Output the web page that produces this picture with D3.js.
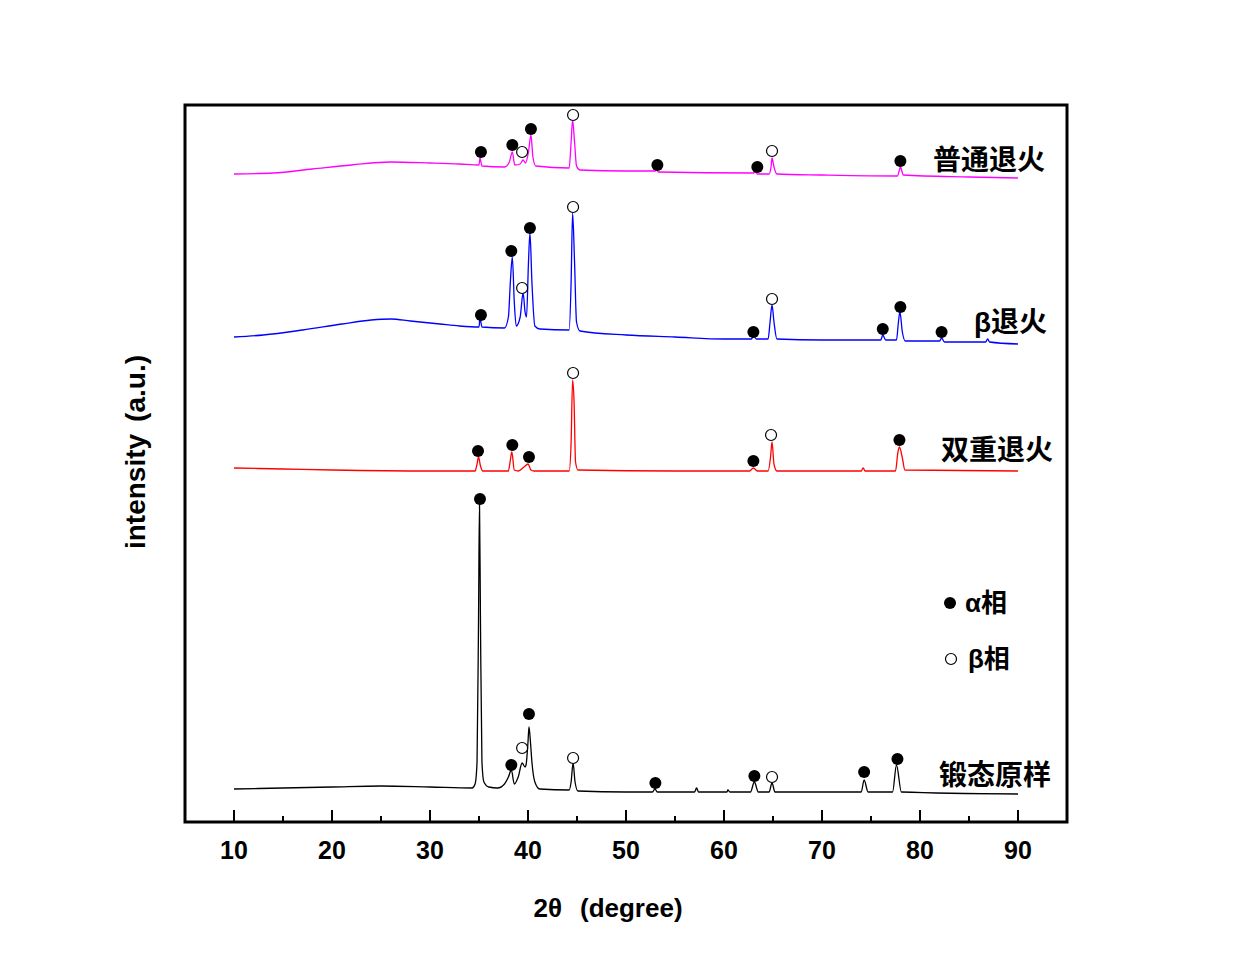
<!DOCTYPE html>
<html lang="zh">
<head>
<meta charset="UTF-8">
<title>XRD patterns</title>
<script src="https://d3js.org/d3.v7.min.js"></script>
<style>
  body { margin: 0; background: #fff; }
  text { font-family: "Liberation Sans", Arial, "Noto Sans CJK SC", sans-serif; font-weight: bold; fill: #000; }
  .cjk { font-family: "Liberation Sans", "Noto Sans CJK SC", sans-serif; }
</style>
</head>
<body>
<div id="chart"></div>
<script>
// 2θ (deg), intensity (a.u., curves already stacked)
const forged = [[10,33],[15,34],[20,35],[25,36],[30,35],[34.3,34],[34.6,38],[34.8,60],[34.95,200],[35.05,320],[35.15,200],[35.3,60],[35.5,40],[36,35],[36.9,34],
  [37.6,38],[38.0,45],[38.3,52],[38.6,38],[39.0,45],[39.4,59],[39.7,55],[39.8,57],[40.0,80],[40.1,95],[40.25,80],[40.4,60],[40.7,40],[41.2,33],
  [44.2,32],[44.4,40],[44.6,59],[44.8,40],[45.1,31],[50,30],[52.7,30],[52.95,33],[53.2,30],[57,30],[57.2,34],[57.4,30],[60.3,30],[60.4,32],[60.6,30],
  [62.7,30],[63.1,40],[63.5,30],[64.6,30],[64.9,39],[65.2,30],[74,30],[74.3,42],[74.7,30],[77.2,30],[77.6,57],[78.1,30],[90,28]];
const dual = [[10,354],[15,353],[20,352],[30,351],[34.6,351],[34.8,358],[34.95,365],[35.15,356],[35.4,351],[38.0,351],[38.2,362],[38.35,370],[38.6,352],
  [39.0,351],[39.6,355],[40.0,358],[40.3,352],[40.6,351],[44.2,351],[44.4,380],[44.55,442],[44.7,420],[44.85,360],[45.1,352],[55,351],[62.6,351],
  [63.0,354],[63.4,351],[64.5,351],[64.75,365],[64.9,380],[65.1,358],[65.4,351],[74.0,351],[74.2,354],[74.4,351],[77.5,351],[77.75,370],[77.9,375],
  [78.2,364],[78.45,352],[90,351]];
const betaAnn = [[10,485],[13,487],[17,492],[21,498],[24,502],[26,503],[28,501],[31,498],[33,496],[35,495],[35.1,504],[35.3,495],[37.6,494],[38.0,505],
  [38.2,540],[38.4,565],[38.6,520],[38.8,496],[39.2,505],[39.5,529],[39.7,510],[39.85,505],[40.05,560],[40.2,589],[40.4,540],[40.7,496],[41.2,493],
  [44.2,492],[44.4,540],[44.55,609],[44.75,560],[44.95,500],[45.3,491],[50,487],[55,485],[60,483],[62.8,483],[63.0,486],[63.3,483],[64.5,483],
  [64.7,500],[64.9,517],[65.1,500],[65.4,483],[70,482],[76.0,482],[76.2,487],[76.5,482],[77.6,482],[77.8,500],[77.95,510],[78.2,490],[78.5,481],
  [82.0,481],[82.2,484],[82.5,480],[86.7,480],[86.9,483],[87.1,480],[90,478]];
const normal = [[10,648],[14,649],[18,653],[22,657],[26,660],[30,659],[33,658],[35,657],[35.1,664],[35.3,656],[37.6,655],[38.1,660],[38.4,670],
  [38.65,657],[39.2,658],[39.5,662],[39.75,659],[40.05,670],[40.3,687],[40.5,665],[40.8,656],[44.2,654],[44.4,680],[44.55,702],[44.75,680],
  [44.95,656],[45.3,652],[50,651],[53.0,651],[53.1,653],[53.3,650],[63.0,649],[63.2,650],[63.4,648],[64.6,648],[64.8,655],[64.9,664],[65.1,655],
  [65.4,648],[70,647],[77.7,646],[77.9,652],[78.0,655],[78.3,647],[85,645],[90,644]];

// phase markers: [2θ, intensity]
const forgedAlpha = [[35.1,323],[38.3,57],[40.1,108],[53.0,39],[63.1,46],[74.3,50],[77.7,63]];
const forgedBeta = [[39.4,74],[44.6,64],[64.9,45]];
const dualAlpha = [[34.9,371],[38.4,377],[40.1,365],[63.0,361],[77.9,382]];
const dualBeta = [[44.6,449],[64.8,387]];
const betaAlpha = [[35.2,507],[38.3,571],[40.2,594],[63.0,490],[76.2,493],[78.0,515],[82.2,490]];
const betaBeta = [[39.4,534],[44.6,615],[64.9,523]];
const normalAlpha = [[35.2,670],[38.4,677],[40.3,693],[53.2,657],[63.4,655],[78.0,661]];
const normalBeta = [[39.4,670],[44.6,707],[64.9,671]];

const seriesNames = ["锻态原样", "双重退火", "β退火", "普通退火"];
const seriesColors = ["#000000", "#ff0000", "#0000ff", "#ff00ff"];
const xTicks = [10, 20, 30, 40, 50, 60, 70, 80, 90];

const series = [
  { name: seriesNames[0], color: seriesColors[0], data: forged, alpha: forgedAlpha, beta: forgedBeta, lx: 939, ly: 785 },
  { name: seriesNames[1], color: seriesColors[1], data: dual, alpha: dualAlpha, beta: dualBeta, lx: 941, ly: 460 },
  { name: seriesNames[2], color: seriesColors[2], data: betaAnn, alpha: betaAlpha, beta: betaBeta, lx: 974, ly: 332 },
  { name: seriesNames[3], color: seriesColors[3], data: normal, alpha: normalAlpha, beta: normalBeta, lx: 933, ly: 170 }
];

const W = 1241, H = 963;
const margin = { left: 185, top: 105, right: 174, bottom: 141 };
const iw = W - margin.left - margin.right;
const ih = H - margin.top - margin.bottom;

const x = d3.scaleLinear().domain([5, 95]).range([0, iw]);
const y = d3.scaleLinear().domain([0, 717]).range([ih, 0]);

const svg = d3.select("#chart").append("svg")
  .attr("width", W).attr("height", H);

const g = svg.append("g").attr("transform", `translate(${margin.left},${margin.top})`);

const line = d3.line().curve(d3.curveMonotoneX).x(d => x(d[0])).y(d => y(d[1]));

series.forEach(s => {
  g.append("path")
    .datum(s.data)
    .attr("fill", "none")
    .attr("stroke", s.color)
    .attr("stroke-width", 1.3)
    .attr("stroke-linejoin", "round")
    .attr("d", line);
});

series.forEach(s => {
  g.selectAll(null).data(s.alpha).join("circle")
    .attr("cx", d => x(d[0])).attr("cy", d => y(d[1]))
    .attr("r", 6).attr("fill", "#000");
  g.selectAll(null).data(s.beta).join("circle")
    .attr("cx", d => x(d[0])).attr("cy", d => y(d[1]))
    .attr("r", 5.5).attr("fill", "#fff").attr("stroke", "#000").attr("stroke-width", 1.2);
  svg.append("text")
    .attr("class", "cjk")
    .attr("x", s.lx).attr("y", s.ly)
    .attr("font-size", 28)
    .text(s.name);
});

// axis ticks (inward, bottom only)
const minorTicks = d3.range(5, 96, 5).filter(v => v % 10 !== 0 && v > 5 && v < 95);
g.selectAll(".major").data(xTicks).join("line")
  .attr("x1", d => x(d)).attr("x2", d => x(d))
  .attr("y1", ih).attr("y2", ih - 12)
  .attr("stroke", "#000").attr("stroke-width", 2);
g.selectAll(".minor").data(minorTicks).join("line")
  .attr("x1", d => x(d)).attr("x2", d => x(d))
  .attr("y1", ih).attr("y2", ih - 6)
  .attr("stroke", "#000").attr("stroke-width", 2);

g.selectAll(".tl").data(xTicks).join("text")
  .attr("x", d => x(d)).attr("y", ih + 37)
  .attr("text-anchor", "middle")
  .attr("font-size", 25)
  .text(d => d);

// frame
g.append("rect")
  .attr("x", 0).attr("y", 0).attr("width", iw).attr("height", ih)
  .attr("fill", "none").attr("stroke", "#000").attr("stroke-width", 3);

// axis titles
const xt = svg.append("text")
  .attr("x", 608).attr("y", 917)
  .attr("text-anchor", "middle")
  .attr("font-size", 26);
xt.append("tspan").text("2θ");
xt.append("tspan").attr("dx", 18).text("(degree)");

const yt = svg.append("text")
  .attr("transform", "translate(145,452) rotate(-90)")
  .attr("text-anchor", "middle")
  .attr("font-size", 28);
yt.append("tspan").text("intensity");
yt.append("tspan").attr("dx", 12).text("(a.u.)");

// legend
svg.append("circle").attr("cx", 950).attr("cy", 603).attr("r", 6).attr("fill", "#000");
svg.append("text").attr("class", "cjk").attr("x", 965).attr("y", 612).attr("font-size", 26).text("α相");
svg.append("circle").attr("cx", 951).attr("cy", 659).attr("r", 5.5).attr("fill", "#fff").attr("stroke", "#000").attr("stroke-width", 1.2);
svg.append("text").attr("class", "cjk").attr("x", 968).attr("y", 668).attr("font-size", 26).text("β相");
</script>
</body>
</html>
